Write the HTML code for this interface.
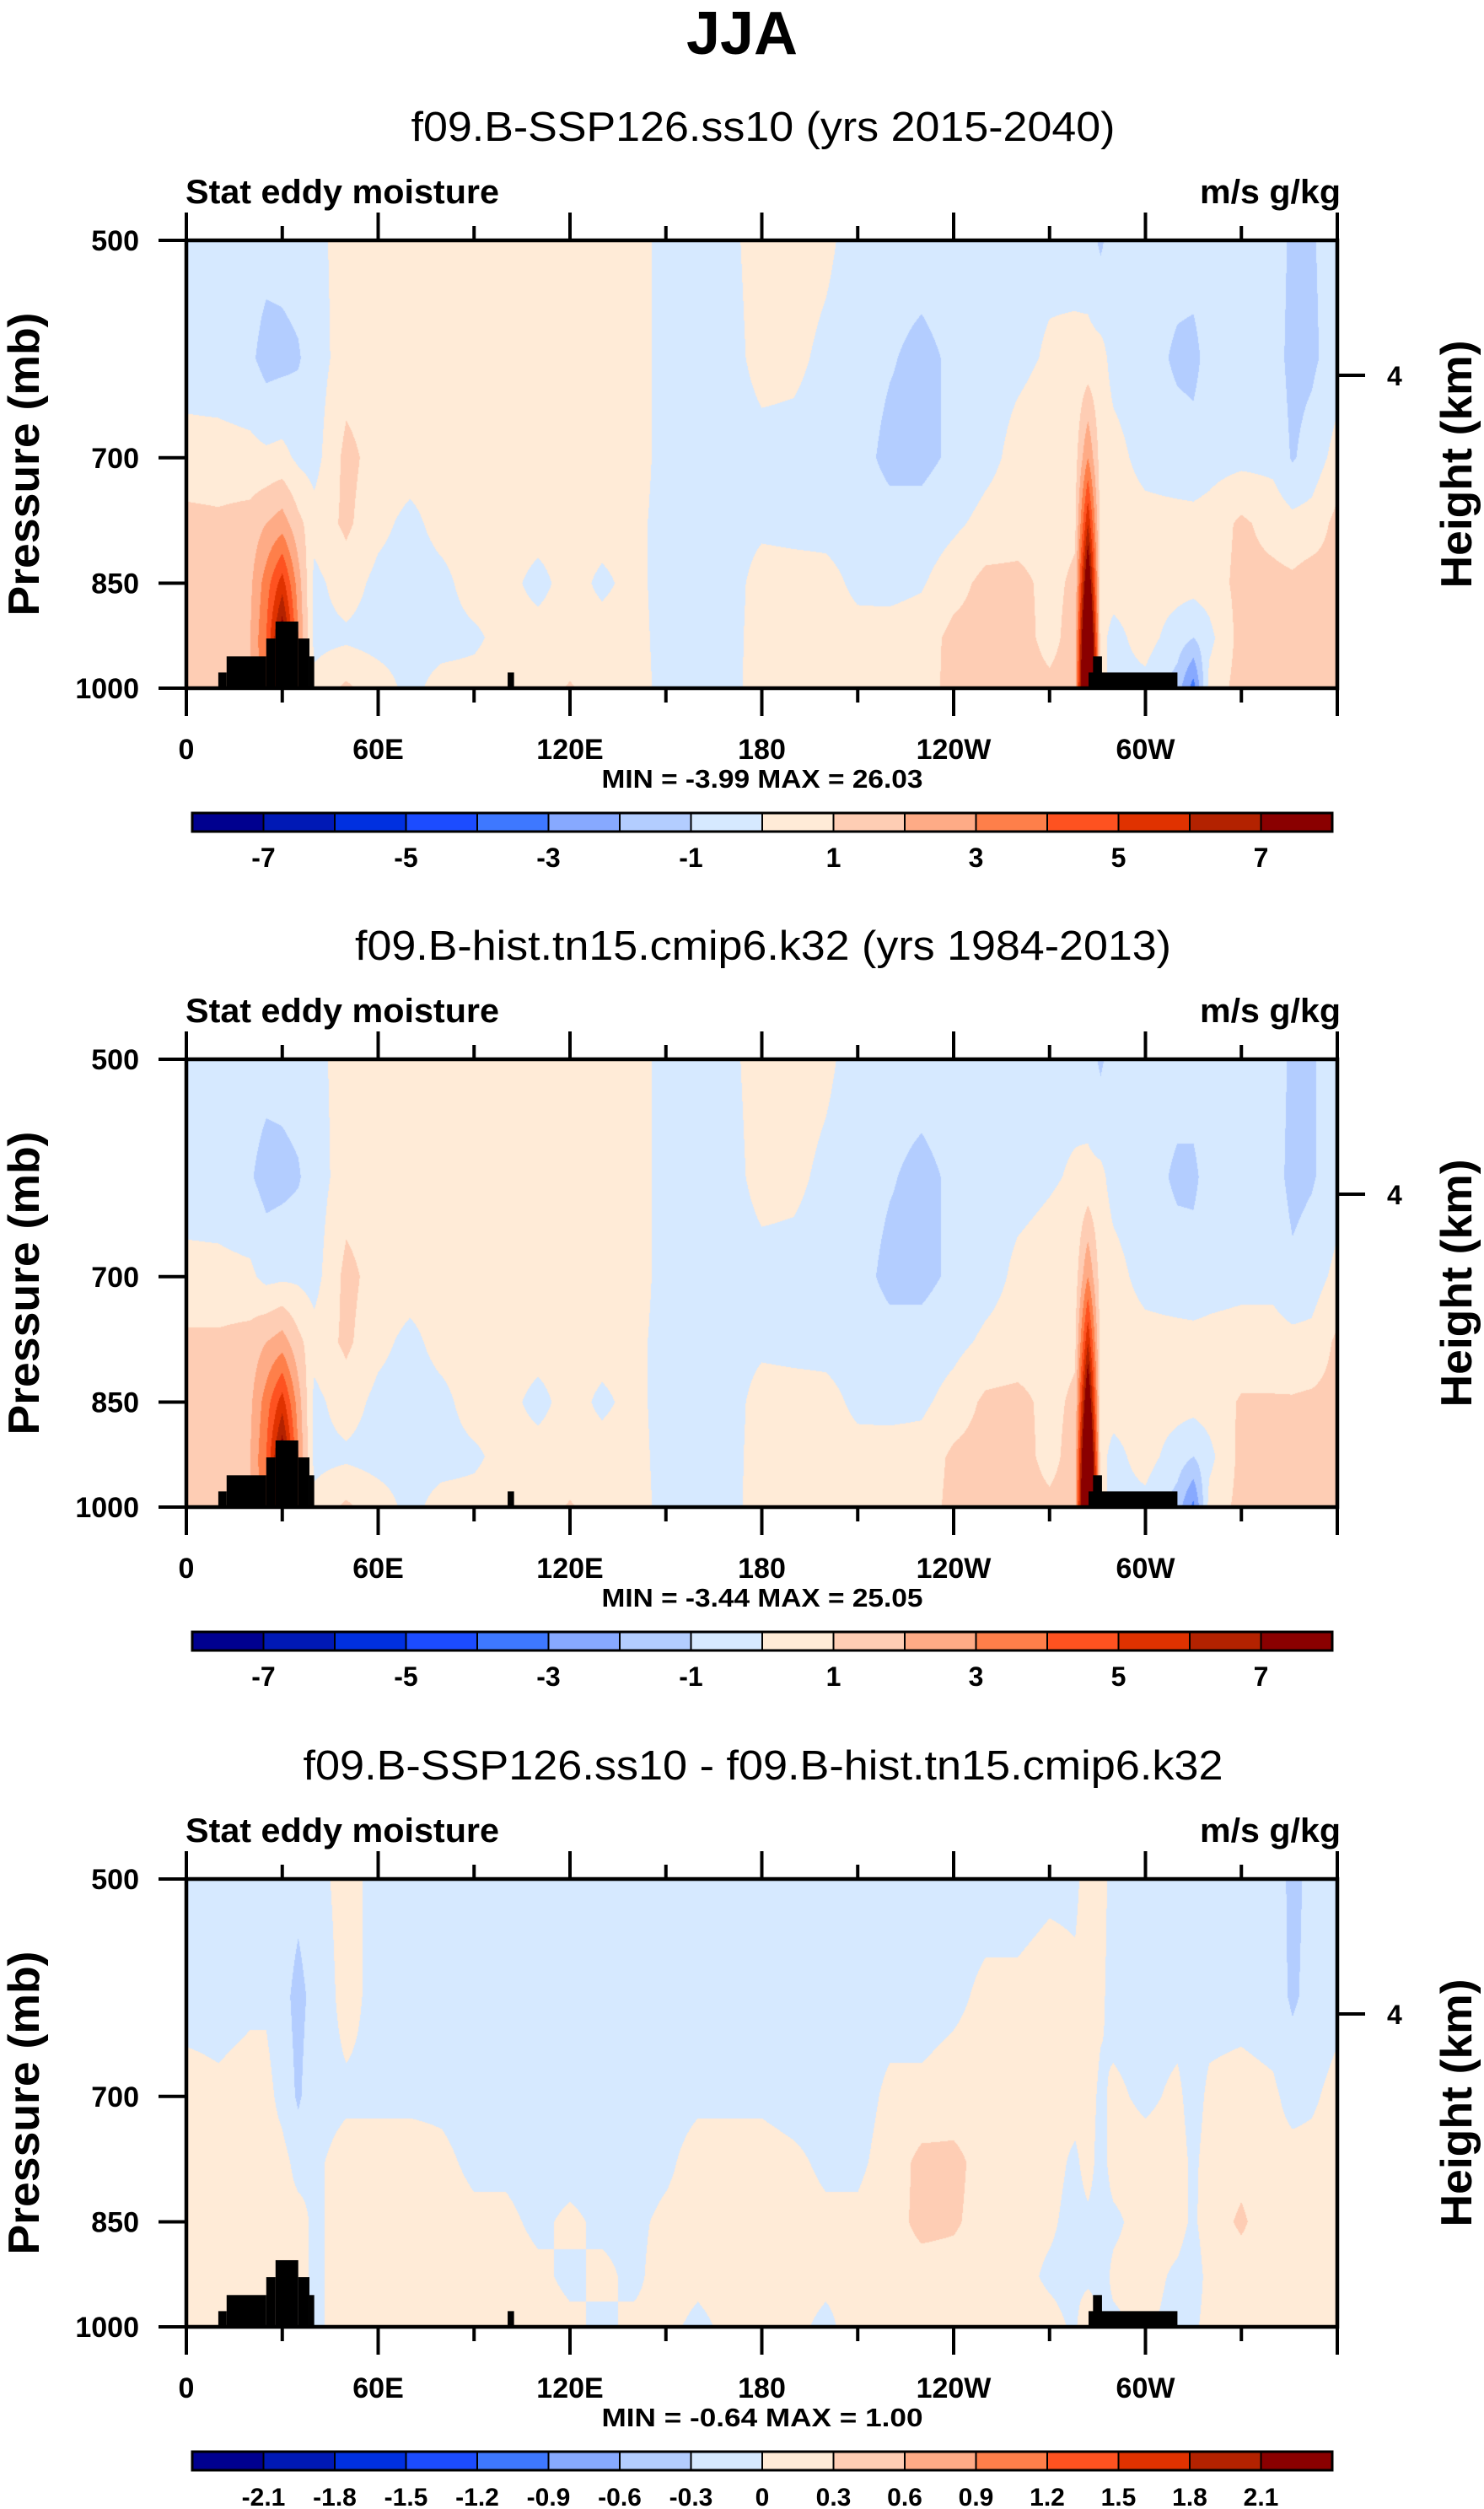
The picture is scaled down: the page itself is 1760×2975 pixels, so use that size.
<!DOCTYPE html>
<html><head><meta charset="utf-8">
<style>
html,body{margin:0;padding:0;background:#fff;}
#wrap{position:relative;width:1760px;height:2975px;overflow:hidden;background:#fff;}
canvas{position:absolute;}
svg{position:absolute;left:0;top:0;}
text{font-family:"Liberation Sans",Arial,sans-serif;font-weight:bold;fill:#000;}
.reg{font-weight:normal;}
</style></head>
<body>
<div id="wrap">
<canvas id="c0" width="1365" height="531" style="left:221px;top:285px"></canvas>
<canvas id="c1" width="1365" height="531" style="left:221px;top:1256px"></canvas>
<canvas id="c2" width="1365" height="531" style="left:221px;top:2228px"></canvas>
<svg id="svg" width="1760" height="2975" xmlns="http://www.w3.org/2000/svg">
<text x="880" y="64" text-anchor="middle" font-size="72">JJA</text>
</svg>
</div>
<script>
// ---- data ----
const lons = [0,10,20,25,30,35,40,50,60,70,80,90,100,110,120,130,140,150,160,170,180,190,200,210,220,230,240,250,260,270,278,282,286,290,300,310,315,320,330,340,346,352,360];
const levels = [500,600,700,775,850,925,1000];
const panelTitles = ["f09.B-SSP126.ss10 (yrs 2015-2040)","f09.B-hist.tn15.cmip6.k32 (yrs 1984-2013)","f09.B-SSP126.ss10 - f09.B-hist.tn15.cmip6.k32"];
const titleWidths = [835, 968, 1091];
const minMaxText = ["MIN = -3.99  MAX = 26.03","MIN = -3.44  MAX = 25.05","MIN = -0.64  MAX = 1.00"];
const lonTicks = [0,60,120,180,240,300];
const lonTickLabels = ["0","60E","120E","180","120W","60W"];
const presTicks = [500,700,850,1000];
const cbarLabels1 = ["-7","-5","-3","-1","1","3","5","7"];
const cbarLabels3 = ["-2.1","-1.8","-1.5","-1.2","-0.9","-0.6","-0.3","0","0.3","0.6","0.9","1.2","1.5","1.8","2.1"];
const palette = ["#00008F","#0019B5","#0030E0","#1C4CFF","#3E78FF","#87A9FF","#B3CDFF","#D6E9FF","#FFEBD7","#FECDB4","#FEAB86","#FE7F4A","#FE5220","#E03200","#B32200","#8A0000"];
// topography blocks: [lon0, lon1, top pressure]
const topoLon0 = [10,12.6,25,27.9,35,38.5,100.5,282.2,283.6];
const topoLon1 = [12.6,25,27.9,35,38.5,40,102.5,310,286.4];
const topoTop  = [976,952,926,902,926,952,976,976,952];
// field columns (per lon, values at levels 500..1000)
const field1 = [
[-0.5,-0.5,0.4,1.3,1.3,1.3,1.3],[-0.5,-0.6,0.4,1.2,1.3,1.4,1.3],[-0.5,-0.8,0.3,1.4,1.8,2,1.8],[-0.6,-1.4,0.2,2,3.5,4,4],
[-0.6,-1.3,0.3,2.5,5.5,8,8],[-0.5,-1.1,-0.2,1.3,2.5,3,3],[-0.3,-0.5,-0.4,0.4,-0.3,-0.3,0.3],[0.4,0.5,1.3,1.2,0.5,-0.2,1.2],
[0.4,0.5,0.6,0.3,-0.3,-0.4,0.5],[0.4,0.5,0.5,-0.3,-0.5,-0.4,-0.3],[0.4,0.5,0.5,0.4,-0.3,-0.4,0.4],[0.4,0.5,0.5,0.5,0.5,-0.2,0.4],
[0.4,0.5,0.5,0.5,0.3,0.4,0.5],[0.4,0.5,0.5,0.4,-0.3,0.4,0.5],[0.4,0.5,0.5,0.4,0.4,0.4,1.1],[0.4,0.5,0.5,0.4,-0.2,0.4,0.5],
[0.4,0.5,0.5,0.3,0.3,0.4,0.4],[-0.3,-0.4,-0.4,-0.4,-0.4,-0.4,-0.3],[-0.4,-0.5,-0.5,-0.5,-0.5,-0.4,-0.3],[-0.2,-0.3,-0.4,-0.4,-0.4,-0.3,-0.2],
[0.4,0.3,-0.3,-0.2,0.4,0.4,0.3],[0.4,0.2,-0.3,-0.3,0.4,0.5,0.4],[0.2,-0.2,-0.4,-0.3,0.3,0.4,0.4],[-0.4,-0.5,-0.6,-0.4,-0.2,0.3,0.4],
[-0.5,-0.9,-1.3,-0.6,-0.3,0.4,0.5],[-0.5,-1.3,-1.3,-0.6,-0.1,0.5,0.6],[-0.4,-0.8,-0.8,-0.2,0.6,1.3,1.3],[-0.3,-0.4,-0.3,0.3,1.3,1.4,1.4],
[-0.2,-0.2,0.3,0.5,1.3,1.4,1.4],[-0.2,0.1,0.5,0.6,0.7,0.7,1.2],[-0.3,0.2,0.6,0.8,1.2,1.4,1.4],[-0.5,0.3,3,6,9,12,14],
[-1.2,0.3,0.5,0.5,0.4,0.3,0.3],[-0.4,-0.3,0.3,0.4,0.4,-0.3,-0.3],[-0.5,-0.5,-0.3,0.3,0.4,0.4,-0.3],[-0.5,-1.2,-0.5,0.3,0.4,-0.5,-1.5],
[-0.5,-1.3,-0.6,0.3,0.4,-1,-3.5],[-0.5,-0.6,-0.4,0.4,0.5,-0.3,0.4],[-0.5,-0.5,-0.3,1.2,1.3,1.4,1.4],[-0.5,-0.6,-0.3,0.6,1.3,1.4,1.4],
[-1.2,-1.3,-1.1,0.3,1.2,1.4,1.4],[-1.1,-1.2,-0.6,0.4,1.5,1.4,1.4],[-0.5,-0.5,0.4,1.3,1.3,1.3,1.3]];
const field2 = [
[-0.5,-0.5,0.3,1.2,1.3,1.3,1.3],[-0.5,-0.6,0.3,1.2,1.3,1.4,1.3],[-0.5,-0.9,0.2,1.4,1.8,2,1.8],[-0.6,-1.4,-0.3,2,3.5,4,4],
[-0.6,-1.3,-0.2,2.5,5.5,8,8],[-0.5,-1.1,-0.2,1.3,2.5,3,3],[-0.3,-0.5,-0.4,0.4,-0.3,-0.3,0.3],[0.4,0.5,1.3,1.2,0.5,-0.2,1.2],
[0.4,0.5,0.6,0.3,-0.3,-0.4,0.5],[0.4,0.5,0.5,-0.3,-0.5,-0.4,-0.3],[0.4,0.5,0.5,0.4,-0.3,-0.4,0.4],[0.4,0.5,0.5,0.5,0.5,-0.2,0.4],
[0.4,0.5,0.5,0.5,0.3,0.4,0.5],[0.4,0.5,0.5,0.4,-0.3,0.4,0.5],[0.4,0.5,0.5,0.4,0.4,0.4,1.1],[0.4,0.5,0.5,0.4,-0.2,0.4,0.5],
[0.4,0.5,0.5,0.3,0.3,0.4,0.4],[-0.3,-0.4,-0.4,-0.4,-0.4,-0.4,-0.3],[-0.4,-0.5,-0.5,-0.5,-0.5,-0.4,-0.3],[-0.2,-0.3,-0.4,-0.4,-0.4,-0.3,-0.2],
[0.4,0.3,-0.3,-0.2,0.4,0.4,0.3],[0.4,0.2,-0.3,-0.3,0.4,0.5,0.4],[0.2,-0.2,-0.4,-0.3,0.3,0.4,0.4],[-0.4,-0.5,-0.6,-0.4,-0.2,0.3,0.4],
[-0.5,-0.9,-1.3,-0.6,-0.3,0.4,0.5],[-0.5,-1.3,-1.3,-0.6,-0.2,0.4,0.5],[-0.4,-0.8,-0.8,-0.3,0.4,1.2,1.3],[-0.3,-0.4,-0.4,0.2,1.2,1.4,1.4],
[-0.2,-0.3,0.2,0.4,1.3,1.4,1.4],[-0.2,-0.1,0.4,0.6,0.7,0.7,1.2],[-0.3,0.1,0.5,0.8,1.2,1.4,1.4],[-0.5,0.2,3,6,9,12,14],
[-1.2,0.2,0.5,0.5,0.4,0.3,0.3],[-0.4,-0.3,0.3,0.4,0.4,-0.3,-0.3],[-0.5,-0.5,-0.3,0.3,0.4,0.4,-0.3],[-0.5,-1.2,-0.5,0.3,0.4,-0.5,-1.5],
[-0.5,-1.2,-0.6,0.3,0.4,-1,-3.3],[-0.5,-0.6,-0.4,0.3,0.5,-0.3,0.4],[-0.5,-0.5,-0.3,0.4,1.1,1.3,1.3],[-0.5,-0.6,-0.3,0.4,1.1,1.3,1.3],
[-1.2,-1.3,-0.8,0.3,1.1,1.3,1.3],[-1.1,-1.1,-0.5,0.3,1.2,1.3,1.3],[-0.5,-0.5,0.3,1.2,1.3,1.3,1.3]];
const field3 = [
[-0.1,-0.1,0.1,0.15,0.15,0.15,0.15],[-0.1,-0.1,0.05,0.15,0.15,0.1,0.1],[-0.1,-0.05,0.1,0.15,0.15,0.1,0.1],[-0.1,-0.05,0.1,0.15,0.15,0.1,0.1],
[-0.1,-0.2,-0.1,0.1,0.1,0.1,0.1],[-0.2,-0.4,-0.35,-0.1,0.1,0.1,0.1],[-0.1,-0.2,-0.1,-0.05,-0.05,-0.05,-0.05],[0.1,0.1,-0.05,0.1,0.1,0.1,0.1],
[-0.1,-0.1,-0.05,0.1,0.15,0.1,0.05],[-0.1,-0.1,-0.05,0.1,0.1,0.1,0.1],[-0.1,-0.1,-0.05,0.05,0.1,0.1,0.05],[-0.1,-0.1,-0.1,-0.05,0.05,0.1,0.1],
[-0.1,-0.1,-0.1,-0.05,0.05,0.1,0.05],[-0.1,-0.1,-0.1,-0.1,-0.05,0.05,0.1],[-0.1,-0.1,-0.1,-0.1,0.05,-0.05,0.05],[-0.1,-0.1,-0.1,-0.1,-0.05,0.05,-0.05],
[-0.1,-0.1,-0.1,-0.1,-0.05,-0.05,0.05],[-0.1,-0.1,-0.1,-0.05,0.05,0.1,0.05],[-0.1,-0.1,-0.05,0.1,0.1,0.05,-0.05],[-0.1,-0.1,-0.05,0.1,0.1,0.1,0.05],
[-0.1,-0.1,-0.05,0.1,0.1,0.1,0.1],[-0.1,-0.1,-0.1,0.05,0.1,0.1,0.05],[-0.1,-0.1,-0.1,-0.05,0.05,0.05,-0.05],[-0.1,-0.1,-0.1,-0.05,0.05,0.05,0.1],
[-0.1,-0.1,0.05,0.1,0.15,0.15,0.1],[-0.1,-0.1,0.05,0.4,0.4,0.15,0.15],[-0.1,-0.05,0.1,0.4,0.35,0.15,0.15],[-0.1,0.05,0.1,0.15,0.15,0.15,0.15],
[-0.1,0.05,0.1,0.1,0.1,0.1,0.15],[-0.05,0.1,0.1,0.1,0.05,-0.05,0.1],[-0.05,0.05,0.1,-0.05,-0.1,-0.1,-0.05],[0.1,0.1,0.1,0.1,-0.05,-0.1,0.3],
[0.1,0.05,-0.05,-0.1,-0.1,-0.1,-0.05],[-0.1,-0.1,0.05,0.1,-0.05,0.05,-0.05],[-0.1,-0.1,-0.05,0.1,0.1,0.1,0.05],[-0.1,-0.1,0.05,0.1,0.1,-0.05,-0.1],
[-0.1,-0.1,-0.1,-0.05,-0.05,-0.15,-0.05],[-0.1,-0.1,0.05,0.1,0.15,0.1,0.1],[-0.1,-0.1,0.1,0.2,0.35,0.15,0.15],[-0.1,-0.15,0.05,0.1,0.1,0.1,0.1],
[-0.4,-0.35,-0.1,0.1,0.1,0.1,0.1],[-0.2,-0.2,-0.05,0.1,0.1,0.1,0.1],[-0.1,-0.1,0.1,0.15,0.15,0.15,0.15]];
const fields = [field1, field2, field3];
const levelStep = [1, 1, 0.3];

// ---- geometry ----
const PL = 221, PW = 1365, PH = 531;
const panelTop = [285, 1256, 2228];
function xLon(lon){ return PL + lon/360*PW; }
function fracP(p){ return Math.log2(p/500); }
function yP(p, top){ return top + fracP(p)*PH; }

// ---- draw fields ----
const levF = levels.map(fracP);
function interpCol(col, f){
  for (let k=0;k<levF.length-1;k++){
    if (f<=levF[k+1]){ const t=(f-levF[k])/(levF[k+1]-levF[k]); return col[k]+(col[k+1]-col[k])*t; }
  }
  return col[col.length-1];
}
fields.forEach((fld, pi)=>{
  const cv = document.getElementById('c'+pi);
  const ctx = cv.getContext('2d');
  const img = ctx.createImageData(PW, PH);
  const rgb = palette.map(h=>[parseInt(h.slice(1,3),16),parseInt(h.slice(3,5),16),parseInt(h.slice(5,7),16)]);
  let seg = 0;
  for (let px=0; px<PW; px++){
    const lon = (px+0.5)/PW*360;
    while (seg < lons.length-2 && lon > lons[seg+1]) seg++;
    const t = (lon-lons[seg])/(lons[seg+1]-lons[seg]);
    for (let py=0; py<PH; py++){
      const f = (py+0.5)/PH;
      const a = interpCol(fld[seg], f), b = interpCol(fld[seg+1], f);
      const v = a + (b-a)*t;
      let idx = Math.floor(v/levelStep[pi] + 8);
      idx = Math.max(0, Math.min(15, idx));
      const o = (py*PW+px)*4, c = rgb[idx];
      img.data[o]=c[0]; img.data[o+1]=c[1]; img.data[o+2]=c[2]; img.data[o+3]=255;
    }
  }
  ctx.putImageData(img,0,0);
});

// ---- overlay ----
const svg = document.getElementById('svg');
const NS = 'http://www.w3.org/2000/svg';
function mk(tag, attrs, parent){ const e=document.createElementNS(NS,tag); for(const k in attrs) e.setAttribute(k,attrs[k]); (parent||svg).appendChild(e); return e; }
function txt(s, attrs, parent){ const e=mk('text',attrs,parent); e.textContent=s; return e; }

[0,1,2].forEach(pi=>{
  const top = panelTop[pi], bot = top+PH, off = top-285;
  const g = mk('g',{});
  
  
  const st = txt(panelTitles[pi], {x:905, y:167+off, 'text-anchor':'middle','font-size':49, class:'reg', textLength:titleWidths[pi], lengthAdjust:'spacingAndGlyphs'}, g);
  
  
  const l1 = txt('Stat eddy moisture', {x:220, y:241+off, 'font-size':40, textLength:372, lengthAdjust:'spacingAndGlyphs'}, g);
  
  
  const l2 = txt('m/s g/kg', {x:1423, y:241+off, 'font-size':40, textLength:167, lengthAdjust:'spacingAndGlyphs'}, g);
  
  
  topoTop.forEach((p,i)=>{
    const r = mk('rect',{x:xLon(topoLon0[i]), y:yP(p,top), width:xLon(topoLon1[i])-xLon(topoLon0[i]), height:bot-yP(p,top), fill:'#000'}, g);
    
    
  });
  const fr = mk('rect',{x:PL, y:top, width:PW, height:PH, fill:'none', stroke:'#000','stroke-width':4.5}, g);
  
  
  for (let lon=0; lon<=360; lon+=30){
    const major = lon%60===0, len = major?33:17, x=xLon(lon);
    const tb = mk('line',{x1:x,x2:x,y1:bot,y2:bot+len,stroke:'#000','stroke-width':4}, g);
    
    
    const tt = mk('line',{x1:x,x2:x,y1:top,y2:top-len,stroke:'#000','stroke-width':4}, g);
    
    
  }
  lonTicks.forEach((lon,i)=>{
    const t = txt(lonTickLabels[i], {x:xLon(lon), y:900+off, 'text-anchor':'middle','font-size':34}, g);
    
    
  });
  presTicks.forEach(p=>{
    const y = yP(p,top);
    const tl = mk('line',{x1:PL-33,x2:PL,y1:y,y2:y,stroke:'#000','stroke-width':4}, g);
    
    
    const t = txt(String(p), {x:165, y:y+12, 'text-anchor':'end','font-size':34}, g);
    
    
  });
  const yt = mk('text',{transform:`translate(46,${top+PH/2}) rotate(-90)`, 'text-anchor':'middle','font-size':52, textLength:360, lengthAdjust:'spacingAndGlyphs'}, g);
  yt.textContent = 'Pressure (mb)';
  
  
  const hy = top+160;
  const rt = mk('line',{x1:PL+PW,x2:PL+PW+33,y1:hy,y2:hy,stroke:'#000','stroke-width':4}, g);
  
  
  const rl = txt('4', {x:1645, y:hy+12, 'font-size':32}, g);
  
  
  const ht = mk('text',{transform:`translate(1745,${top+PH/2}) rotate(-90)`, 'text-anchor':'middle','font-size':52, textLength:294, lengthAdjust:'spacingAndGlyphs'}, g);
  ht.textContent = 'Height (km)';
  
  
  const mm = txt(minMaxText[pi], {x:904, y:934+off, 'text-anchor':'middle','font-size':31, textLength:381, lengthAdjust:'spacingAndGlyphs'}, g);
  
  
  const cbT = 964+off, cbH = 22, cbL = 228, bw = (1580-228)/16;
  palette.forEach((c,i)=>{
    const r = mk('rect',{x:cbL+i*bw, y:cbT, width:bw, height:cbH, fill:c, stroke:'#000','stroke-width':2}, g);
    
    
  });
  const cbo = mk('rect',{x:cbL, y:cbT, width:1580-228, height:cbH, fill:'none', stroke:'#000','stroke-width':3}, g);
  
  
  if (pi<2){
    cbarLabels1.forEach((s,i)=>{
      const t = txt(s, {x:cbL+(1+2*i)*bw, y:1028+off, 'text-anchor':'middle','font-size':32}, g);
      
      
    });
  } else {
    cbarLabels3.forEach((s,i)=>{
      const t = txt(s, {x:cbL+(1+i)*bw, y:1028+off, 'text-anchor':'middle','font-size':30}, g);
      
      
    });
  }
});
</script>
</body></html>
